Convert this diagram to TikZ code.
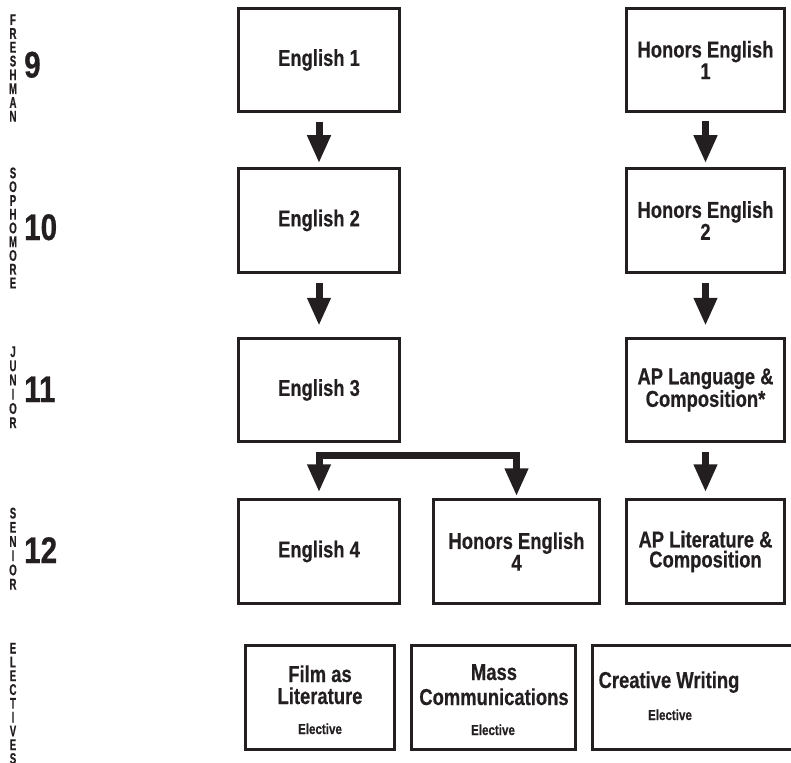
\documentclass[tikz,border=0pt]{standalone}
\usepackage{fontspec}
\setmainfont{Liberation Sans}
\newfontfamily\boxfont{Liberation Sans Bold}[FakeStretch=0.8, FakeBold=0.5]
\newfontfamily\sidefont{Liberation Sans Bold}[FakeStretch=0.62, FakeBold=0.5]
\newfontfamily\numfont{Liberation Sans Bold}[FakeStretch=0.8, FakeBold=0.6]
\usetikzlibrary{arrows.meta}
\definecolor{ink}{RGB}{35,31,32}
\begin{document}
\begin{tikzpicture}[x=1pt,y=-1pt,
  course/.style={draw=ink, line width=3pt, outer sep=1.5pt, inner sep=0pt,
    minimum height=103.5pt, align=center, text=ink,
    font=\boxfont\fontsize{23}{20}\selectfont},
  elec/.style={draw=ink, line width=3pt, outer sep=1.5pt, inner sep=0pt, minimum height=104pt},
  etitle/.style={anchor=base, inner sep=0pt, text=ink, font=\boxfont\fontsize{23}{20}\selectfont},
  esub/.style={anchor=base, inner sep=0pt, text=ink, font=\boxfont\fontsize{14.5}{13}\selectfont},
  side/.style={anchor=base, inner sep=0pt, text=ink, font=\sidefont\fontsize{15.5}{14}\selectfont},
  num/.style={anchor=base west, inner sep=0pt, text=ink, font=\numfont\fontsize{37}{36}\selectfont},
  arr/.style={draw=ink, line width=7pt, -{Triangle[length=28pt,width=22pt]}},
  barr/.style={draw=ink, line width=7pt, {Triangle[length=28pt,width=22pt]}-{Triangle[length=28pt,width=22pt]}}
]
\useasboundingbox (0,0) rectangle (791,762);
\clip (0,0) rectangle (791,762);

% year labels
\foreach \l [count=\i from 0] in {F,R,E,S,H,M,A,N}
  \node[side] (fr\i) at (13,25+13.8*\i) {\l};
\foreach \l [count=\i from 0] in {S,O,P,H,O,M,O,R,E}
  \node[side] (so\i) at (13,178.3+13.75*\i) {\l};
\foreach \l [count=\i from 0] in {J,U,N,I,O,R}
  \node[side] (ju\i) at (13,357+14.2*\i) {\l};
\foreach \l [count=\i from 0] in {S,E,N,I,O,R}
  \node[side] (se\i) at (13,518.5+14.2*\i) {\l};
\foreach \l [count=\i from 0] in {E,L,E,C,T,I,V,E,S}
  \node[side] (el\i) at (13,653.5+13.8*\i) {\l};

\node[num] (n9) at (24,77.5) {9};
\node[num] (n10) at (24,240) {10};
\node[num] (n11) at (24,402) {11};
\node[num] (n12) at (24,563) {12};

% course boxes
\node[course, minimum width=161pt] (e1) at (319,60) {English 1};
\node[course, minimum width=161pt] (e2) at (319,220.5) {English 2};
\node[course, minimum width=161pt] (e3) at (319,390) {English 3};
\node[course, minimum width=161pt] (e4) at (319,551.5) {English 4};
\node[course, minimum width=166pt] (h4) at (516.5,551.5) {Honors English\\4};
\node[course, minimum width=158pt] (h1) at (705.5,60) {Honors English\\1};
\node[course, minimum width=158pt] (h2) at (705.5,220.5) {Honors English\\2};
\node[course, minimum width=158pt] (ap1) at (705.5,390) {AP Language \&\\Composition*};
\node[course, minimum width=158pt] (ap2) at (705.5,551.5) {AP Literature \&\\Composition};

% arrows
\draw[arr, shorten <=9pt, shorten >=4pt] (e1.south) -- (e2.north);
\draw[arr, shorten <=8pt, shorten >=4pt] (h1.south) -- (h2.north);
\draw[arr, shorten <=9pt, shorten >=11pt] (e2.south) -- (e3.north);
\draw[arr, shorten <=9pt, shorten >=11pt] (h2.south) -- (ap1.north);
\draw[arr, shorten <=9pt, shorten >=6pt] (ap1.south) -- (ap2.north);
\coordinate (split) at (418,455.5);
\draw[barr, shorten <=6pt, shorten >=2pt] (e4.north) |- (split) -| (h4.north);

% electives
\node[elec, minimum width=149pt] (film) at (320,697.5) {};
\node[elec, minimum width=164pt] (mass) at (493.5,697.5) {};
\node[elec, minimum width=226pt] (crea) at (705.5,697.5) {};
\node[etitle] (film1) at (320,682) {Film as};
\node[etitle] (film2) at (320,704) {Literature};
\node[esub] (film3) at (320,734) {Elective};
\node[etitle] (mass1) at (494,680) {Mass};
\node[etitle] (mass2) at (494,705) {Communications};
\node[esub] (mass3) at (493,735) {Elective};
\node[etitle] (crea1) at (669,688) {Creative Writing};
\node[esub] (crea2) at (670,720) {Elective};
\end{tikzpicture}
\end{document}
